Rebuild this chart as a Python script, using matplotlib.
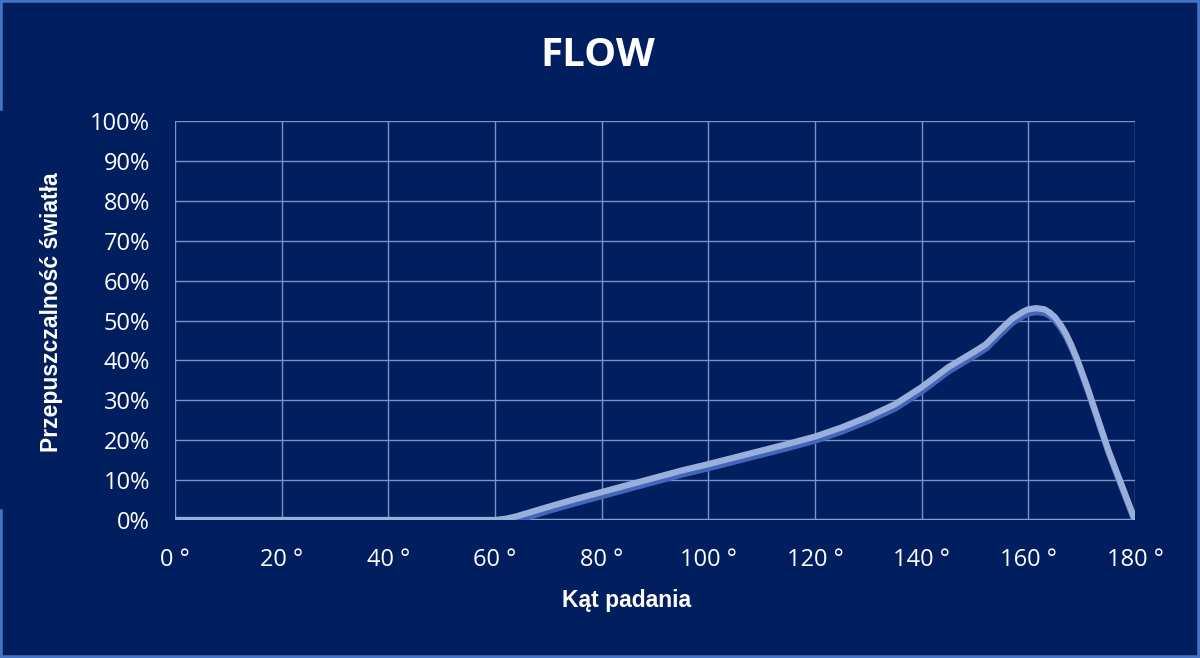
import numpy as np
import matplotlib.pyplot as plt
import matplotlib.patheffects as pe
from matplotlib.lines import Line2D

# kat padania [stopnie] i przepuszczalnosc [%]
katy = [0, 10, 20, 30, 40, 50, 55, 60, 62, 64, 66, 68, 70, 75, 80, 85, 90, 95, 100,
        105, 110, 115, 120, 125, 130, 135, 140, 145, 150, 152, 155, 157, 159, 160,
        161.5, 163, 164, 165, 166, 167, 168, 169, 170, 171, 172, 173, 174, 175,
        176, 177, 178, 179, 180]
przep = [0, 0, 0, 0, 0, 0, 0, 0, 0.3, 0.9, 1.7, 2.5, 3.3, 5.2, 7.0, 8.8, 10.6, 12.4, 14.0,
         15.7, 17.4, 19.1, 20.9, 23.2, 25.9, 29.0, 33.3, 38.3, 42.3, 44.0, 48.0, 50.5, 52.2, 52.8,
         53.1, 52.8, 52.0, 50.8, 49.0, 46.8, 44.0, 40.8, 37.2, 33.5, 29.5, 25.5, 21.5, 17.5,
         14.0, 10.5, 7.0, 3.5, 0]

xticks = list(range(0, 181, 20))
xlabels = [f"{t} °" for t in xticks]
yticks = list(range(0, 101, 10))
ylabels = [f"{t}%" for t in yticks]

tlo = '#011f5e'
siatka = '#7e91c6'

fig = plt.figure(figsize=(12, 6.58), dpi=100, facecolor=tlo)
ax = fig.add_axes([175/1200, 1-520/658, 960/1200, 399/658])
ax.set_facecolor(tlo)

ax.plot(katy, przep, color='#9aaedb', lw=4.5, solid_capstyle='round',
        solid_joinstyle='round', zorder=3,
        path_effects=[pe.SimpleLineShadow(offset=(0.5, -2.8), shadow_color='#4466b8', alpha=1.0),
                      pe.Normal()])

ax.set_xlim(0, 180)
ax.set_ylim(0, 100)
ax.set_xticks(xticks)
ax.set_xticklabels(xlabels)
ax.set_yticks(yticks)
ax.set_yticklabels(ylabels)
ax.tick_params(length=0, colors='white', labelsize=17, pad=18)
for lab in ax.get_xticklabels() + ax.get_yticklabels():
    lab.set_family('Open Sans')
ax.tick_params(axis='x', pad=20)
ax.grid(True, color=siatka, lw=1.0)
for s in ax.spines.values():
    s.set_visible(False)
ax.axhline(0, color='#8a9dcf', lw=2.5, zorder=2)

fig.text(598/1200, 1-55/658, 'FLOW', color='white', fontsize=29, fontweight='bold',
         family='Open Sans', ha='center', va='center')
fig.text(52/1200, 1-312/658, 'Przepuszczalność światła', color='white', fontsize=16.5,
         fontweight='bold', family='Liberation Sans', rotation=90, ha='center', va='center')
fig.text(627/1200, 1-601/658, 'Kąt padania', color='white', fontsize=16.5,
         fontweight='bold', family='Liberation Sans', ha='center', va='center')

# ramka
rama = '#4472c4'
for xs, ys in [([0, 1], [1, 1]), ([0, 1], [0, 0]), ([1, 1], [0, 1]),
               ([0, 0], [1, 1-108/658]), ([0, 0], [1-512/658, 0])]:
    fig.add_artist(Line2D(xs, ys, color=rama, lw=4, transform=fig.transFigure))

fig.savefig('out.png', facecolor=tlo)
